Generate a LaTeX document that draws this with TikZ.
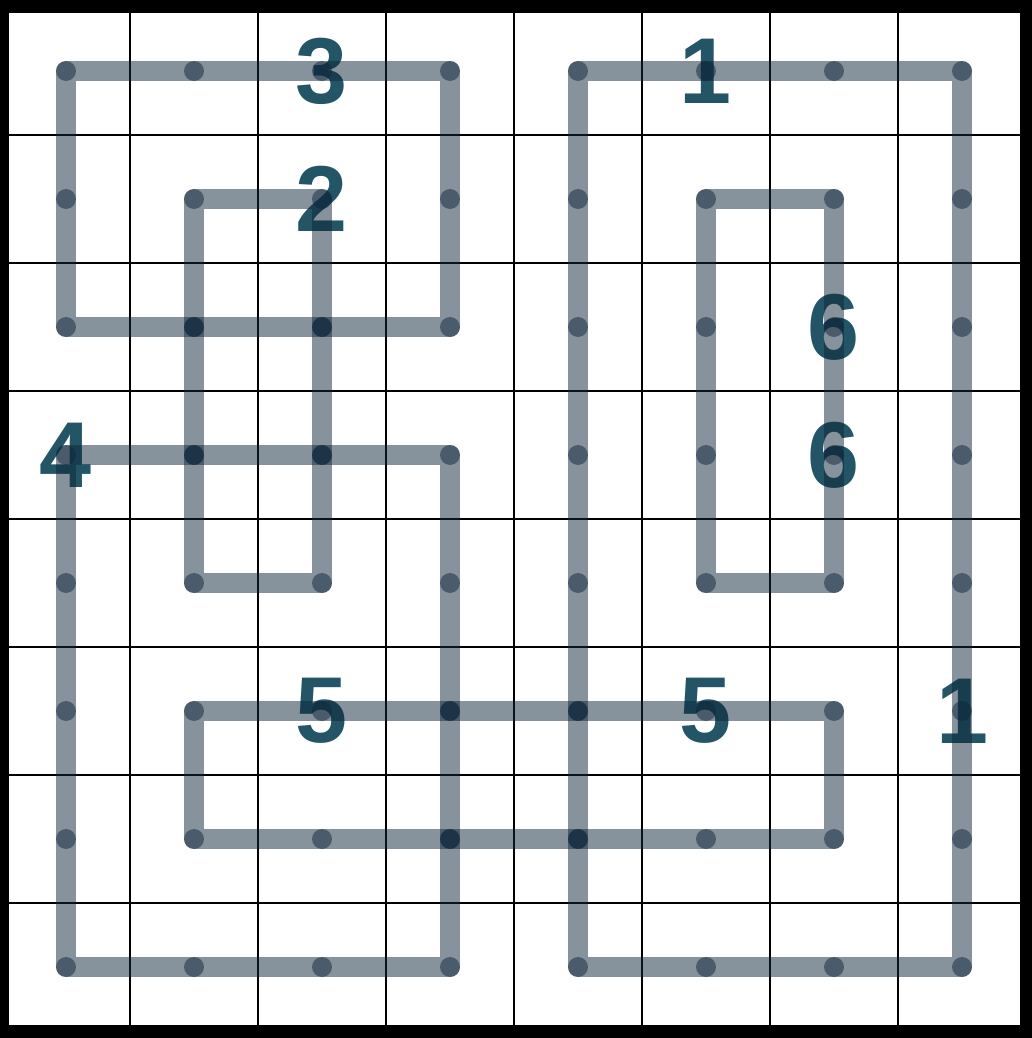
\documentclass[tikz,border=0pt]{standalone}
\usepackage{fontspec}
\setmainfont{Liberation Sans}
\usetikzlibrary{calc}

\definecolor{ringcol}{RGB}{15,39,58}
\definecolor{cluecol}{RGB}{35,85,102}

% one loop through the cells (#1,#2) -- (#3,#4), with a dot in every cell
\newcommand{\drawring}[4]{%
  \draw[ring] (p#1#2) -- (p#3#2) -- (p#3#4) -- (p#1#4) -- cycle;
  \foreach \cx in {#1,...,#3} {
    \fill[ringdot] (p\cx#2) circle (0.078);
    \fill[ringdot] (p\cx#4) circle (0.078);
  }
  \pgfmathtruncatemacro{\ra}{#2+1}
  \pgfmathtruncatemacro{\rb}{#4-1}
  \ifnum\ra>\rb\else
    \foreach \cy in {\ra,...,\rb} {
      \fill[ringdot] (p#1\cy) circle (0.078);
      \fill[ringdot] (p#3\cy) circle (0.078);
    }
  \fi
}

\begin{document}
\begin{tikzpicture}[
    gridline/.style={black, line width=0.0156cm},
    frame/.style={black, line width=0.1016cm},
    ring/.style={ringcol, opacity=0.5, line width=0.156cm, line cap=round, line join=round},
    ringdot/.style={ringcol, opacity=0.5},
    clue/.style={text=cluecol, font=\fontsize{20.8}{24}\selectfont\bfseries, inner sep=0pt}
  ]
    \useasboundingbox (-0.015625,0.0546875) rectangle (8.046875,-8.0546875);

    % cell centres
    \foreach \c in {0,...,7} {
      \foreach \r in {0,...,7} {
        \coordinate (p\c\r) at (\c+0.5,-\r-0.5);
      }
    }

    % Grid
    \draw[gridline] (0,0) grid (8,-8);
    \draw[frame] (0,0) rectangle (8,-8);

    % Clues
    \node[clue] (clueA) at (p20) {3};
    \node[clue] (clueB) at (p50) {1};
    \node[clue] (clueC) at (p21) {2};
    \node[clue] (clueD) at (p62) {6};
    \node[clue] (clueE) at (p03) {4};
    \node[clue] (clueF) at (p63) {6};
    \node[clue] (clueG) at (p25) {5};
    \node[clue] (clueH) at (p55) {5};
    \node[clue] (clueI) at (p75) {1};

    % Loops
    \drawring{0}{0}{3}{2}
    \drawring{1}{1}{2}{4}
    \drawring{0}{3}{3}{7}
    \drawring{1}{5}{6}{6}
    \drawring{4}{0}{7}{7}
    \drawring{5}{1}{6}{4}
\end{tikzpicture}
\end{document}
